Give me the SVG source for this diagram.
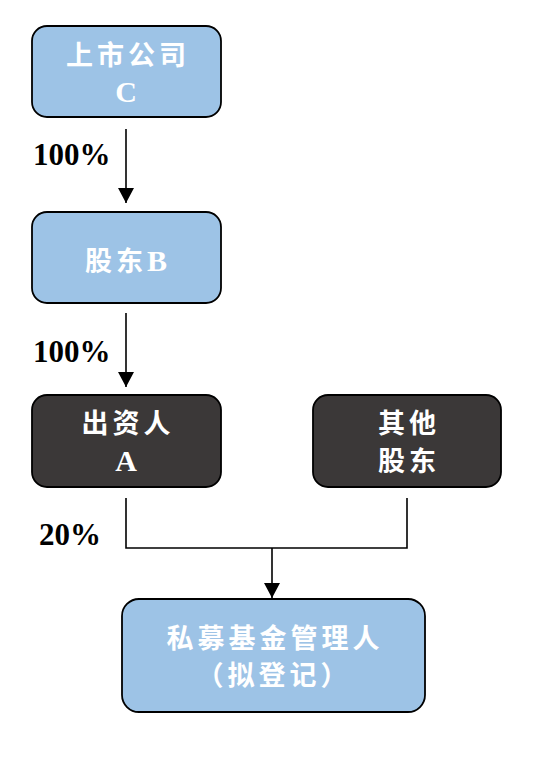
<svg xmlns="http://www.w3.org/2000/svg" width="554" height="761" viewBox="0 0 554 761">
<defs>
<marker id="arr" viewBox="0 0 15 16" refX="15" refY="8" markerWidth="15" markerHeight="16" markerUnits="userSpaceOnUse" orient="auto">
<path d="M0,0 L15,8 L0,16 Z" fill="#000"/>
</marker>
<style>
.blue{fill:#9dc3e6;stroke:#000;stroke-width:1.8}
.dark{fill:#3b3838;stroke:#000;stroke-width:1.8}
.cn{font-family:"Noto Sans CJK SC","Liberation Serif",sans-serif;font-size:27px;font-weight:700;fill:#fff;text-anchor:middle;letter-spacing:4px}
.lat{font-family:"Liberation Serif",serif;font-size:30px;font-weight:700;fill:#fff;text-anchor:middle}
.pct{font-family:"Liberation Serif",serif;font-size:31px;font-weight:700;fill:#000}
.ln{fill:none;stroke:#000;stroke-width:1.6}
</style>
</defs>
<rect width="554" height="761" fill="#fff"/>
<g id="node-c">
<rect class="blue" x="32" y="26" width="189" height="91" rx="15"/>
<text class="cn" x="128" y="65">上市公司</text>
<text class="lat" x="126" y="102">C</text>
</g>
<g id="node-b">
<rect class="blue" x="32" y="212" width="189" height="91" rx="15"/>
<text class="cn" x="126" y="271">股东<tspan style="font-family:'Liberation Serif',serif;font-size:30px;letter-spacing:0">B</tspan></text>
</g>
<g id="node-a">
<rect class="dark" x="32" y="395" width="189" height="92" rx="15"/>
<text class="cn" x="128" y="433">出资人</text>
<text class="lat" x="126" y="471">A</text>
</g>
<g id="node-other">
<rect class="dark" x="313" y="395" width="188" height="92" rx="15"/>
<text class="cn" x="409" y="433">其他</text>
<text class="cn" x="409" y="471">股东</text>
</g>
<g id="node-manager">
<rect class="blue" x="122" y="599" width="303" height="113" rx="17"/>
<text class="cn" x="275" y="648">私募基金管理人</text>
<text class="cn" x="274" y="685">（拟登记）</text>
</g>
<g id="connectors">
<line class="ln" x1="126" y1="129" x2="126" y2="203" marker-end="url(#arr)"/>
<line class="ln" x1="126" y1="313" x2="126" y2="387" marker-end="url(#arr)"/>
<polyline class="ln" points="126,498 126,548 407,548 407,498"/>
<line class="ln" x1="272" y1="548" x2="272" y2="598" marker-end="url(#arr)"/>
</g>
<g id="labels">
<text class="pct" x="33" y="165">100%</text>
<text class="pct" x="33" y="362">100%</text>
<text class="pct" x="39" y="545">20%</text>
</g>
</svg>
